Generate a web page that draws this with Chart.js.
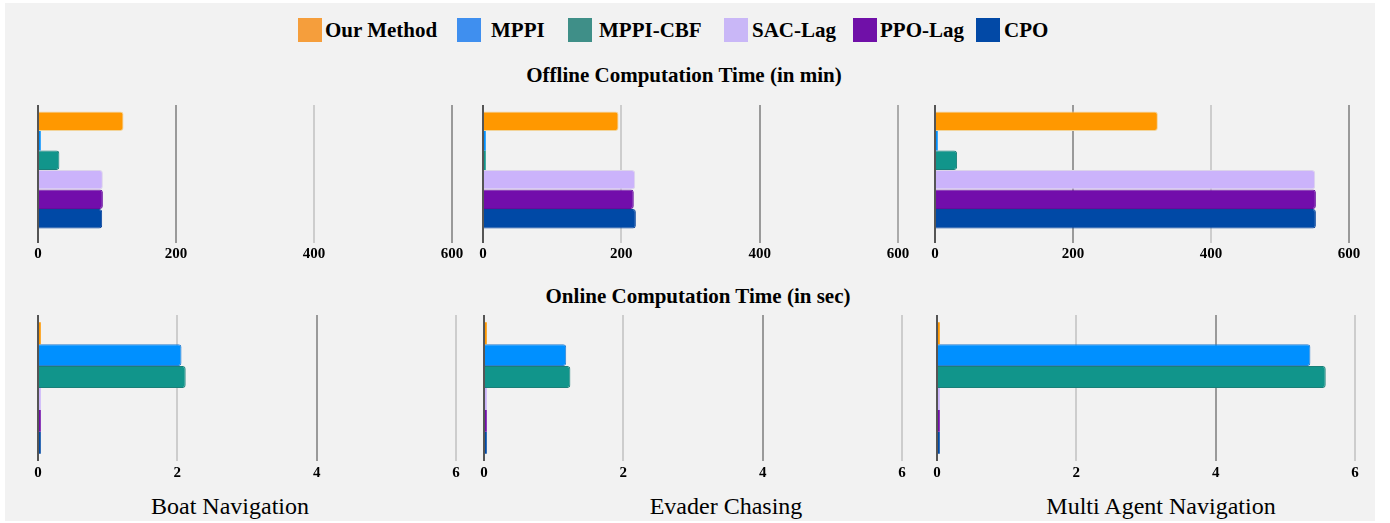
<!DOCTYPE html>
<html>
<head>
<meta charset="utf-8">
<script src="https://cdn.jsdelivr.net/npm/chart.js@4.4.1/dist/chart.umd.min.js"></script>
<style>
  html, body { margin: 0; padding: 0; background: #ffffff; }
  body { width: 1390px; height: 523px; position: relative; overflow: hidden; }
  #panel { position: absolute; left: 5px; top: 3px; width: 1370px; height: 518px; background: #f2f2f2; }
  canvas { position: absolute; }
  .txt { position: absolute; font-family: "Liberation Serif", "DejaVu Serif", serif; color: #000; white-space: nowrap; line-height: 1; }
  .center { transform: translate(-50%, -50%); }
  .swatch { position: absolute; width: 24px; height: 24px; }
</style>
</head>
<body>
<div id="panel"></div>
<div id="overlay"></div>
<canvas id="off0"></canvas>
<canvas id="off1"></canvas>
<canvas id="off2"></canvas>
<canvas id="on0"></canvas>
<canvas id="on1"></canvas>
<canvas id="on2"></canvas>
<script>
// ---- data ----
const methods = ['Our Method', 'MPPI', 'MPPI-CBF', 'SAC-Lag', 'PPO-Lag', 'CPO'];
const tasks = ['Boat Navigation', 'Evader Chasing', 'Multi Agent Navigation'];

// offline computation time (min), one value per method
const offlineBoat   = [124, 4, 31, 94, 94, 93];
const offlineEvader = [196, 4, 4, 220, 218, 221];
const offlineMulti  = [323, 4, 32, 551, 552, 552];

// online computation time (sec), one value per method
const onlineBoat   = [0.04, 2.06, 2.12, 0.04, 0.04, 0.04];
const onlineEvader = [0.04, 1.18, 1.24, 0.04, 0.04, 0.04];
const onlineMulti  = [0.04, 5.36, 5.58, 0.04, 0.04, 0.04];

const offlineTicks = [0, 200, 400, 600];
const onlineTicks = [0, 2, 4, 6];

const offlineTitle = 'Offline Computation Time (in min)';
const onlineTitle = 'Online Computation Time (in sec)';

// ---- styles ----
const barColors    = ['#ff9800', '#0090ff', '#11958b', '#cbb3fb', '#720dab', '#0049a6'];
const barBorders   = ['#f2d49a', '#2b7fd0', '#1a7f78', '#dcd4ea', '#650c9c', '#0a459e'];
const legendColors = ['#f59e3c', '#3f8fef', '#3f8f88', '#c9b7f7', '#7010a8', '#0249a6'];
const SERIF = '"Liberation Serif", "DejaVu Serif", serif';

const DARK = '#555555', MID = '#9a9a9a', LIGHT = '#cdcdcd';
const gridTop = [[DARK, MID, LIGHT, MID], [DARK, LIGHT, MID, '#ababab'], [DARK, MID, LIGHT, MID]];
const gridBottom = [[DARK, LIGHT, MID, LIGHT], [DARK, LIGHT, MID, LIGHT], [DARK, LIGHT, MID, LIGHT]];

// pixel extents of each value axis (zero .. max)
const topSpans = [[38, 452], [483, 898], [935, 1349]];
const bottomSpans = [[38, 456], [484, 902], [937, 1355]];

function makeChart(id, task, values, ticks, span, colors, row) {
  const padX = 22;
  const cv = document.getElementById(id);
  const isTop = row === 'top';
  const areaTop = isTop ? 105 : 315;
  const areaH = isTop ? 130 : 146;
  const axisH = isTop ? 32 : 26;
  const canvasTop = areaTop - 10;
  cv.width = (span[1] - span[0]) + padX * 2;
  cv.height = 10 + areaH + axisH;
  cv.style.left = (span[0] - padX) + 'px';
  cv.style.top = canvasTop + 'px';

  new Chart(cv, {
    type: 'bar',
    data: {
      labels: [task],
      datasets: methods.map((m, i) => ({
        label: m,
        data: [values[i]],
        backgroundColor: barColors[i],
        borderColor: barBorders[i],
        borderWidth: (c) => (Math.abs(c.chart.scales.x.getPixelForValue(values[i]) - c.chart.scales.x.getPixelForValue(0)) < 6 ? 0 : 1),
        borderRadius: (c) => (Math.abs(c.chart.scales.x.getPixelForValue(values[i]) - c.chart.scales.x.getPixelForValue(0)) < 6 ? 0 : 3),
        categoryPercentage: 0.9,
        barPercentage: 1.0
      }))
    },
    options: {
      indexAxis: 'y',
      responsive: false,
      animation: false,
      layout: { padding: { left: padX, right: padX, top: 10, bottom: 0 } },
      plugins: { legend: { display: false }, tooltip: { enabled: false }, title: { display: false } },
      scales: {
        y: { display: false },
        x: {
          min: ticks[0],
          max: ticks[ticks.length - 1],
          afterBuildTicks: (s) => { s.ticks = ticks.map(v => ({ value: v })); },
          afterFit: (s) => { s.height = axisH; },
          border: { display: false },
          grid: {
            color: (c) => colors[c.index] || MID,
            tickColor: (c) => colors[c.index] || MID,
            lineWidth: 2,
            drawTicks: isTop,
            tickLength: 8
          },
          ticks: {
            padding: isTop ? 2 : 3,
            color: '#000',
            maxRotation: 0,
            autoSkip: false,
            font: { family: SERIF, size: 15, weight: 'bold' }
          }
        }
      }
    }
  });
}

makeChart('off0', tasks[0], offlineBoat, offlineTicks, topSpans[0], gridTop[0], 'top');
makeChart('off1', tasks[1], offlineEvader, offlineTicks, topSpans[1], gridTop[1], 'top');
makeChart('off2', tasks[2], offlineMulti, offlineTicks, topSpans[2], gridTop[2], 'top');
makeChart('on0', tasks[0], onlineBoat, onlineTicks, bottomSpans[0], gridBottom[0], 'bottom');
makeChart('on1', tasks[1], onlineEvader, onlineTicks, bottomSpans[1], gridBottom[1], 'bottom');
makeChart('on2', tasks[2], onlineMulti, onlineTicks, bottomSpans[2], gridBottom[2], 'bottom');

// ---- shared legend, section titles and task names ----
const overlay = document.getElementById('overlay');
function addText(str, x, y, size, weight, centered) {
  const d = document.createElement('div');
  d.className = 'txt' + (centered ? ' center' : '');
  d.textContent = str;
  d.style.left = x + 'px';
  d.style.top = y + 'px';
  d.style.fontSize = size + 'px';
  d.style.fontWeight = weight;
  overlay.appendChild(d);
  return d;
}

const legendSwatchX = [298, 457, 568, 724, 853, 976];
const legendTextX   = [325, 491, 599, 752, 880, 1004];
methods.forEach((m, i) => {
  const s = document.createElement('div');
  s.className = 'swatch';
  s.style.left = legendSwatchX[i] + 'px';
  s.style.top = '18px';
  s.style.background = legendColors[i];
  overlay.appendChild(s);
  const t = addText(m, legendTextX[i], 30, 21, 'bold', false);
  t.style.transform = 'translateY(-50%)';
});

addText(offlineTitle, 684, 75, 21, 'bold', true);
addText(onlineTitle, 698, 296, 21, 'bold', true);

const taskCenters = [230, 726, 1161];
tasks.forEach((t, i) => addText(t, taskCenters[i], 506, 24, 'normal', true));
</script>
</body>
</html>
